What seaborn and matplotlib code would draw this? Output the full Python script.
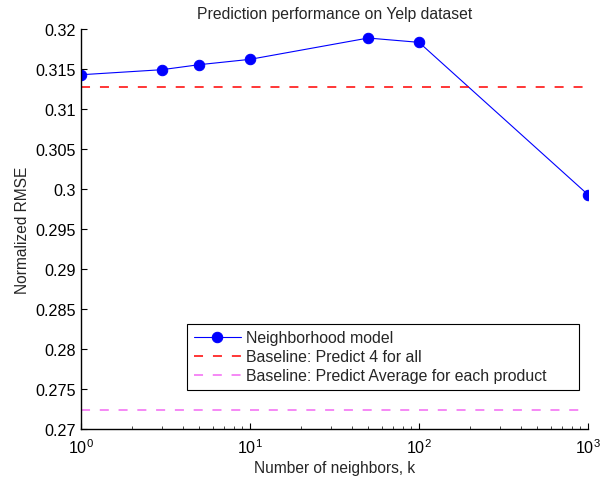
import matplotlib
matplotlib.use("Agg")
import matplotlib.pyplot as plt
from matplotlib.ticker import FormatStrFormatter, LogLocator
import numpy as np
import pandas as pd
import seaborn as sns

# Neighborhood model results
neighbors_k = [1, 3, 5, 10, 50, 100, 1000]
rmse_neighborhood = [0.31433, 0.31496, 0.31559, 0.31626, 0.31893, 0.31839, 0.2993]

# Baselines
baseline_predict4 = 0.31275
baseline_avg_product = 0.27228

y_ticks = [0.27, 0.275, 0.28, 0.285, 0.29, 0.295, 0.30, 0.305, 0.31, 0.315, 0.32]

sns.set_style("ticks")
plt.rcParams["font.family"] = ["Liberation Sans", "DejaVu Sans"]
plt.rcParams["mathtext.fontset"] = "custom"
plt.rcParams["mathtext.rm"] = "Liberation Sans"
plt.rcParams["mathtext.it"] = "Liberation Sans:italic"
plt.rcParams["xtick.direction"] = "in"
plt.rcParams["ytick.direction"] = "in"

fig = plt.figure(figsize=(6.11, 4.81), dpi=100)
ax = fig.add_axes([0.1326, 0.107, 0.8298, 0.8296])

df = pd.DataFrame({"k": neighbors_k, "rmse": rmse_neighborhood})
sns.lineplot(data=df, x="k", y="rmse", ax=ax, color="#0000ff", lw=0.8,
             marker="o", markersize=7.5, markeredgecolor="#0000ff",
             label="Neighborhood model")

ax.axhline(baseline_predict4, color="#ff0000", lw=1.1, dashes=(5.9, 6.5),
           label="Baseline: Predict 4 for all")
ax.axhline(baseline_avg_product, color="#f57ff5", lw=1.3, dashes=(5, 5.4),
           label="Baseline: Predict Average for each product")

ax.set_xscale("log")
ax.set_xlim(1, 1000)
ax.set_ylim(0.27, 0.32)
ax.set_yticks(y_ticks)
ax.yaxis.set_major_formatter(FormatStrFormatter("%g"))
ax.xaxis.set_minor_locator(LogLocator(base=10, subs=np.arange(2, 10)))

ax.spines["top"].set_visible(False)
ax.spines["right"].set_visible(False)
for s in ("left", "bottom"):
    ax.spines[s].set_linewidth(1.0)
    ax.spines[s].set_color("black")
ax.tick_params(axis="both", which="major", labelsize=11.6, length=4,
               width=0.8, colors="black")
ax.tick_params(axis="y", which="major", pad=3.5)
ax.tick_params(axis="x", which="major", pad=6)
ax.tick_params(axis="x", which="minor", length=2.5, width=0.6)

ax.set_title("Prediction performance on Yelp dataset", fontsize=11.3, pad=8)
ax.set_xlabel("Number of neighbors, k", fontsize=11.2, labelpad=3)
ax.set_ylabel("Normalized RMSE", fontsize=11.2, labelpad=4)

leg = ax.legend(loc="lower left", bbox_to_anchor=(0.209, 0.097, 0.773, 0.0),
                mode="expand", fontsize=11.4, frameon=True, fancybox=False,
                framealpha=1, edgecolor="black", handlelength=3.0,
                handletextpad=0.3, borderpad=0.42, labelspacing=0.25,
                borderaxespad=0)
leg.get_frame().set_linewidth(0.8)

fig.savefig("out.png", dpi=100)
